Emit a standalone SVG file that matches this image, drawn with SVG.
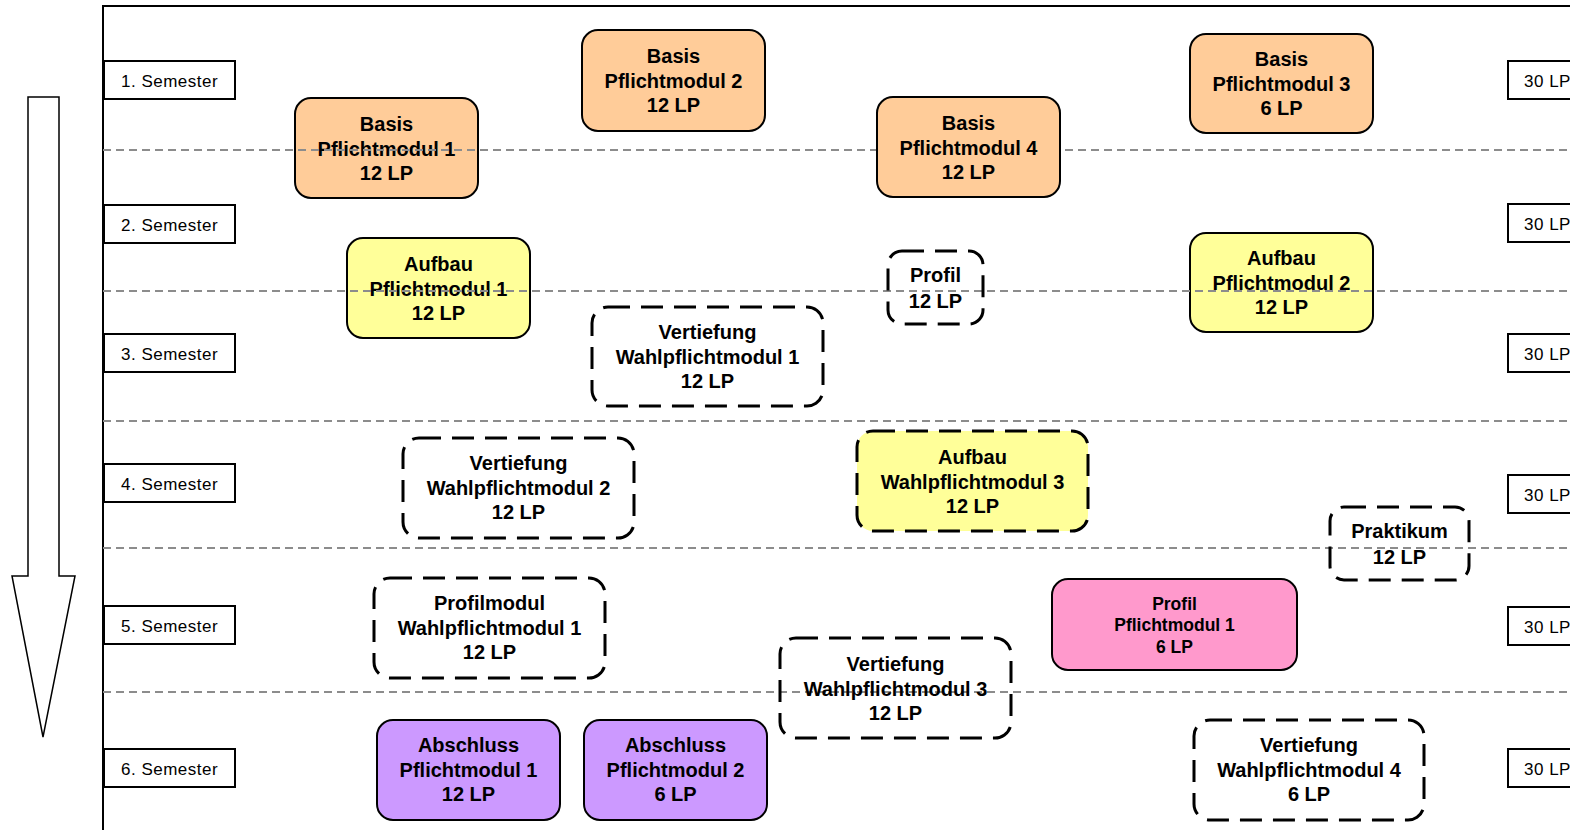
<svg xmlns="http://www.w3.org/2000/svg" width="1570" height="830" viewBox="0 0 1570 830">
<style>
.bg{fill:#fff}
.frame{fill:none;stroke:#000;stroke-width:2}
.sem{fill:#fff;stroke:#000;stroke-width:2}
.semt{font-family:"Liberation Sans",Arial,sans-serif;font-size:17px;letter-spacing:0.5px;fill:#000}
.sep{stroke:#8c8c8c;stroke-width:2;stroke-dasharray:8 5;fill:none}
.solid{stroke:#000;stroke-width:2}
.dash{stroke:#000;stroke-width:3;stroke-dasharray:22 11;fill:none}
.t{font-family:"Liberation Sans",Arial,sans-serif;font-size:20px;font-weight:bold;fill:#000;text-anchor:middle}
.ts{font-family:"Liberation Sans",Arial,sans-serif;font-size:17.5px;font-weight:bold;fill:#000;text-anchor:middle}
.basis{fill:#FFCC99}
.aufbau{fill:#FFFF99}
.profil{fill:#FF99CC}
.abschluss{fill:#CC99FF}
</style>
<rect class="bg" x="0" y="0" width="1570" height="830"/>
<g id="timeline-arrow">
<polygon points="28,97 59,97 59,576 75,576 43,737 12,576 28,576" fill="#fff" stroke="#000" stroke-width="1.5"/>
</g>
<g id="frame">
<polyline class="frame" points="103,830 103,6 1572,6"/>
</g>
<g id="semester-labels">
<rect class="sem" x="104" y="61" width="131" height="38"/><text class="semt" x="121" y="87">1. Semester</text>
<rect class="sem" x="104" y="205" width="131" height="38"/><text class="semt" x="121" y="231">2. Semester</text>
<rect class="sem" x="104" y="334" width="131" height="38"/><text class="semt" x="121" y="360">3. Semester</text>
<rect class="sem" x="104" y="464" width="131" height="38"/><text class="semt" x="121" y="490">4. Semester</text>
<rect class="sem" x="104" y="606" width="131" height="38"/><text class="semt" x="121" y="632">5. Semester</text>
<rect class="sem" x="104" y="749" width="131" height="38"/><text class="semt" x="121" y="775">6. Semester</text>
</g>
<g id="lp-labels">
<rect class="sem" x="1508" y="61" width="70" height="38"/><text class="semt" x="1524" y="87">30 LP</text>
<rect class="sem" x="1508" y="204" width="70" height="38"/><text class="semt" x="1524" y="230">30 LP</text>
<rect class="sem" x="1508" y="334" width="70" height="38"/><text class="semt" x="1524" y="360">30 LP</text>
<rect class="sem" x="1508" y="475" width="70" height="38"/><text class="semt" x="1524" y="501">30 LP</text>
<rect class="sem" x="1508" y="607" width="70" height="38"/><text class="semt" x="1524" y="633">30 LP</text>
<rect class="sem" x="1508" y="749" width="70" height="38"/><text class="semt" x="1524" y="775">30 LP</text>
</g>
<g id="basis-pm1">
<rect class="basis solid" x="295" y="98" width="183" height="100" rx="16"/>
<text class="t" x="386.5" y="131">Basis</text><text class="t" x="386.5" y="156">Pflichtmodul 1</text><text class="t" x="386.5" y="180">12 LP</text>
</g>
<g id="aufbau-pm1">
<rect class="aufbau solid" x="347" y="238" width="183" height="100" rx="16"/>
<text class="t" x="438.5" y="271">Aufbau</text><text class="t" x="438.5" y="296">Pflichtmodul 1</text><text class="t" x="438.5" y="320">12 LP</text>
</g>
<g id="aufbau-pm2">
<rect class="aufbau solid" x="1190" y="233" width="183" height="99" rx="16"/>
<text class="t" x="1281.5" y="265">Aufbau</text><text class="t" x="1281.5" y="290">Pflichtmodul 2</text><text class="t" x="1281.5" y="314">12 LP</text>
</g>
<g id="separators">
<line class="sep" x1="103" y1="150" x2="1570" y2="150"/>
<line class="sep" x1="103" y1="291" x2="1570" y2="291"/>
<line class="sep" x1="103" y1="421" x2="1570" y2="421"/>
<line class="sep" x1="103" y1="548" x2="1570" y2="548"/>
<line class="sep" x1="103" y1="692" x2="1570" y2="692"/>
</g>
<g id="basis-pm2">
<rect class="basis solid" x="582" y="30" width="183" height="101" rx="16"/>
<text class="t" x="673.5" y="63">Basis</text><text class="t" x="673.5" y="88">Pflichtmodul 2</text><text class="t" x="673.5" y="112">12 LP</text>
</g>
<g id="basis-pm4">
<rect class="basis solid" x="877" y="97" width="183" height="100" rx="16"/>
<text class="t" x="968.5" y="130">Basis</text><text class="t" x="968.5" y="155">Pflichtmodul 4</text><text class="t" x="968.5" y="179">12 LP</text>
</g>
<g id="basis-pm3">
<rect class="basis solid" x="1190" y="34" width="183" height="99" rx="16"/>
<text class="t" x="1281.5" y="66">Basis</text><text class="t" x="1281.5" y="91">Pflichtmodul 3</text><text class="t" x="1281.5" y="115">6 LP</text>
</g>
<g id="profil-12">
<rect class="dash" x="888" y="251" width="95" height="73" rx="14"/>
<text class="t" x="935.5" y="282">Profil</text><text class="t" x="935.5" y="308">12 LP</text>
</g>
<g id="vertiefung-wpm1">
<rect class="dash" x="592" y="307" width="231" height="99" rx="16"/>
<text class="t" x="707.5" y="339">Vertiefung</text><text class="t" x="707.5" y="364">Wahlpflichtmodul 1</text><text class="t" x="707.5" y="388">12 LP</text>
</g>
<g id="vertiefung-wpm2">
<rect class="dash" x="403" y="438" width="231" height="100" rx="16"/>
<text class="t" x="518.5" y="470">Vertiefung</text><text class="t" x="518.5" y="495">Wahlpflichtmodul 2</text><text class="t" x="518.5" y="519">12 LP</text>
</g>
<g id="aufbau-wpm3">
<rect class="aufbau" x="857" y="431" width="231" height="100" rx="16"/>
<rect class="dash" x="857" y="431" width="231" height="100" rx="16"/>
<text class="t" x="972.5" y="464">Aufbau</text><text class="t" x="972.5" y="489">Wahlpflichtmodul 3</text><text class="t" x="972.5" y="513">12 LP</text>
</g>
<g id="praktikum">
<rect class="dash" x="1330" y="507" width="139" height="73" rx="14"/>
<text class="t" x="1399.5" y="538">Praktikum</text><text class="t" x="1399.5" y="564">12 LP</text>
</g>
<g id="profil-pm1">
<rect class="profil solid" x="1052" y="579" width="245" height="91" rx="16"/>
<text class="ts" x="1174.5" y="610">Profil</text><text class="ts" x="1174.5" y="631">Pflichtmodul 1</text><text class="ts" x="1174.5" y="653">6 LP</text>
</g>
<g id="profilmodul-wpm1">
<rect class="dash" x="374" y="578" width="231" height="100" rx="16"/>
<text class="t" x="489.5" y="610">Profilmodul</text><text class="t" x="489.5" y="635">Wahlpflichtmodul 1</text><text class="t" x="489.5" y="659">12 LP</text>
</g>
<g id="vertiefung-wpm3">
<rect class="dash" x="780" y="638" width="231" height="100" rx="16"/>
<text class="t" x="895.5" y="671">Vertiefung</text><text class="t" x="895.5" y="696">Wahlpflichtmodul 3</text><text class="t" x="895.5" y="720">12 LP</text>
</g>
<g id="abschluss-pm1">
<rect class="abschluss solid" x="377" y="720" width="183" height="100" rx="16"/>
<text class="t" x="468.5" y="752">Abschluss</text><text class="t" x="468.5" y="777">Pflichtmodul 1</text><text class="t" x="468.5" y="801">12 LP</text>
</g>
<g id="abschluss-pm2">
<rect class="abschluss solid" x="584" y="720" width="183" height="100" rx="16"/>
<text class="t" x="675.5" y="752">Abschluss</text><text class="t" x="675.5" y="777">Pflichtmodul 2</text><text class="t" x="675.5" y="801">6 LP</text>
</g>
<g id="vertiefung-wpm4">
<rect class="dash" x="1194" y="720" width="230" height="100" rx="16"/>
<text class="t" x="1309" y="752">Vertiefung</text><text class="t" x="1309" y="777">Wahlpflichtmodul 4</text><text class="t" x="1309" y="801">6 LP</text>
</g>
</svg>
